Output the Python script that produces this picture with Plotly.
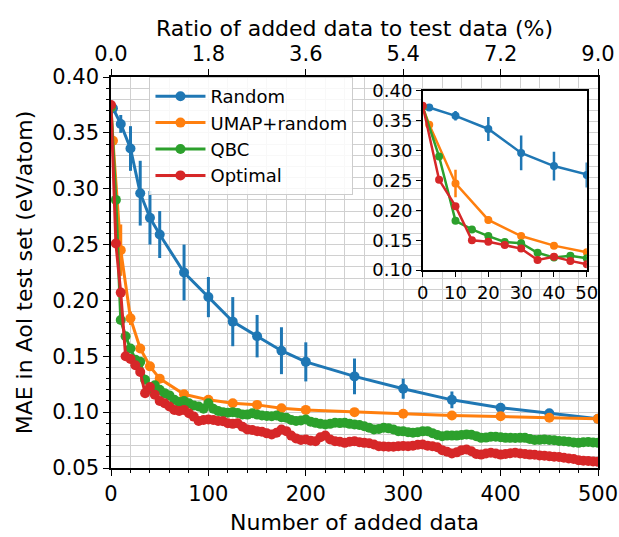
import plotly.graph_objects as go

# ---------------- data ----------------
random_x = [2, 10, 20, 30, 40, 50, 75, 100, 125, 150, 175, 200, 250, 300, 350, 400, 450, 500]
random_y = [0.372, 0.358, 0.336, 0.296, 0.274, 0.259, 0.225, 0.203, 0.181, 0.168, 0.155, 0.145,
            0.132, 0.121, 0.111, 0.104, 0.099, 0.094]
random_err = [0.004, 0.008, 0.020, 0.029, 0.024, 0.021, 0.025, 0.018, 0.022, 0.019, 0.021, 0.0175,
              0.016, 0.009, 0.0075, 0.004, 0.003, 0.004]

umap_x = [0, 2, 10, 20, 30, 40, 50, 75, 100, 125, 150, 175, 200, 250, 300, 350, 400, 450, 500]
umap_y = [0.373, 0.343, 0.245, 0.184, 0.157, 0.141, 0.130, 0.116, 0.111, 0.108, 0.1065, 0.1035,
          0.102, 0.100, 0.0985, 0.097, 0.0963, 0.095, 0.094]
umap_err = [0.0, 0.003, 0.023, 0.006, 0.004, 0.003, 0.003, 0.002, 0.002, 0.002, 0.002, 0.002,
            0.002, 0.002, 0.002, 0.002, 0.002, 0.002, 0.002]

dense_x = list(range(0, 501, 5))
qbc_y = [0.373, 0.290, 0.1825, 0.168, 0.157, 0.147, 0.145, 0.129, 0.121, 0.124, 0.120,
         0.117, 0.115, 0.111, 0.109, 0.110, 0.108, 0.106, 0.105, 0.103, 0.108,
         0.103, 0.101, 0.100, 0.0995, 0.100, 0.0993, 0.098, 0.0978, 0.099, 0.0978,
         0.097, 0.0965, 0.0963, 0.097, 0.0955, 0.095, 0.093, 0.092, 0.0925, 0.0934,
         0.0915, 0.0904, 0.0895, 0.089, 0.0895, 0.0905, 0.0902, 0.0904, 0.0895, 0.089,
         0.0885, 0.0874, 0.086, 0.0844, 0.085, 0.086, 0.0855, 0.0845, 0.083, 0.0828,
         0.082, 0.0815, 0.082, 0.0828, 0.083, 0.0812, 0.0795, 0.0785, 0.079, 0.079,
         0.079, 0.0795, 0.080, 0.0798, 0.0785, 0.077, 0.0772, 0.078, 0.078, 0.0775,
         0.077, 0.077, 0.0768, 0.077, 0.077, 0.076, 0.075, 0.0752, 0.0755, 0.075,
         0.0748, 0.0742, 0.074, 0.0735, 0.0728, 0.0725, 0.073, 0.0732, 0.0728, 0.0725]
opt_y = [0.375, 0.251, 0.207, 0.150, 0.1475, 0.142, 0.136, 0.117, 0.1225, 0.1155, 0.110,
         0.108, 0.105, 0.102, 0.101, 0.102, 0.099, 0.096, 0.092, 0.093, 0.0934,
         0.093, 0.092, 0.0918, 0.090, 0.0895, 0.090, 0.087, 0.0844, 0.084, 0.083,
         0.0825, 0.081, 0.080, 0.0815, 0.0844, 0.083, 0.079, 0.0765, 0.075, 0.0755,
         0.0745, 0.074, 0.0775, 0.079, 0.0755, 0.074, 0.0735, 0.0725, 0.0735, 0.074,
         0.073, 0.0725, 0.0722, 0.071, 0.0695, 0.0692, 0.069, 0.069, 0.0695, 0.0698,
         0.0695, 0.070, 0.0708, 0.071, 0.070, 0.0695, 0.0685, 0.066, 0.0645, 0.063,
         0.064, 0.066, 0.0666, 0.065, 0.0625, 0.062, 0.063, 0.0636, 0.063, 0.062,
         0.0625, 0.0632, 0.0636, 0.063, 0.0625, 0.062, 0.0618, 0.0612, 0.061, 0.0605,
         0.060, 0.0598, 0.0592, 0.0585, 0.058, 0.057, 0.0565, 0.0562, 0.0558, 0.0555]

top_tickvals = [0.0, 1.8, 3.6, 5.4, 7.2, 9.0]

BLUE, ORANGE, GREEN, RED = "#1f77b4", "#ff7f0e", "#2ca02c", "#d62728"
FONT = "DejaVu Sans"
GRID = "#d0d0d0"

series = [
    ("Random", random_x, random_y, random_err, BLUE),
    ("UMAP+random", umap_x, umap_y, umap_err, ORANGE),
    ("QBC", dense_x, qbc_y, None, GREEN),
    ("Optimal", dense_x, opt_y, None, RED),
]

fig = go.Figure()

for name, xs, ys, err, col in series:
    kw = {}
    if err is not None:
        kw["error_y"] = dict(type="data", array=err, visible=True, color=col, thickness=3, width=0)
    fig.add_trace(go.Scatter(x=xs, y=ys, name=name, mode="lines+markers",
                             line=dict(color=col, width=3), marker=dict(color=col, size=10),
                             xaxis="x", yaxis="y", **kw))

# dummy trace for top axis
fig.add_trace(go.Scatter(x=[0, 9], y=[None, None], xaxis="x2", yaxis="y",
                         showlegend=False, hoverinfo="skip", mode="lines"))

for name, xs, ys, err, col in series:
    kw = {}
    if err is not None:
        kw["error_y"] = dict(type="data", array=err, visible=True, color=col, thickness=2.5, width=0)
    fig.add_trace(go.Scatter(x=xs, y=ys, name=name, mode="lines+markers", showlegend=False,
                             line=dict(color=col, width=2.5), marker=dict(color=col, size=8),
                             xaxis="x3", yaxis="y3", **kw))

axis_common = dict(showline=True, linecolor="black", linewidth=1.5, ticks="outside",
                   tickcolor="black", tickwidth=1.2, zeroline=False, automargin=False,
                   tickfont=dict(family=FONT, size=21, color="black"))

fig.update_layout(
    width=619, height=537,
    margin=dict(l=111, r=21, t=77, b=69),
    paper_bgcolor="white",
    plot_bgcolor="rgba(255,255,255,0.999)",
    font=dict(family=FONT, size=18, color="black"),
    xaxis=dict(**axis_common, range=[0, 500], dtick=100, ticklen=6, mirror=False,
               showgrid=True, gridcolor=GRID, gridwidth=1,
               minor=dict(dtick=20, ticks="outside", ticklen=3.5, tickcolor="black",
                          showgrid=True, gridcolor=GRID, gridwidth=1),
               title=dict(text="Number of added data", standoff=10,
                          font=dict(family=FONT, size=22, color="black")),
               anchor="y"),
    yaxis=dict(**axis_common, range=[0.05, 0.40], dtick=0.05, tickformat=".2f", ticklen=6,
               mirror=True,
               showgrid=True, gridcolor=GRID, gridwidth=1,
               minor=dict(dtick=0.01, ticks="outside", ticklen=3.5, tickcolor="black",
                          showgrid=True, gridcolor=GRID, gridwidth=1),
               title=dict(text="MAE in AoI test set (eV/atom)", standoff=14,
                          font=dict(family=FONT, size=22, color="black")),
               anchor="x"),
    xaxis2=dict(**axis_common, overlaying="x", side="top", range=[0, 9],
                tickvals=top_tickvals, tickformat=".1f", ticklen=6, showgrid=False,
                anchor="y"),
    xaxis3=dict(showline=True, linecolor="black", linewidth=1.5, mirror=True, ticks="outside",
                tickcolor="black", ticklen=5, tickwidth=1.2, zeroline=False, showgrid=False,
                automargin=False,
                range=[0, 50], dtick=10, domain=[0.640, 0.977], anchor="y3",
                tickfont=dict(family=FONT, size=18, color="black")),
    yaxis3=dict(showline=True, linecolor="black", linewidth=1.5, mirror=True, ticks="outside",
                tickcolor="black", ticklen=5, tickwidth=1.2, zeroline=False, showgrid=False,
                automargin=False,
                range=[0.10, 0.40], dtick=0.05, tickformat=".2f", domain=[0.506, 0.965],
                anchor="x3", tickfont=dict(family=FONT, size=18, color="black")),
    legend=dict(x=0.079, y=1.0, xanchor="left", yanchor="top",
                bgcolor="rgba(255,255,255,0.85)", bordercolor="#cccccc", borderwidth=1,
                font=dict(family=FONT, size=18, color="black"), itemwidth=50,
                tracegroupgap=0),
    showlegend=True,
    annotations=[dict(text="Ratio of added data to test data (%)", xref="paper", yref="paper",
                      x=0.5, y=1.125, xanchor="center", yanchor="middle", showarrow=False,
                      font=dict(family=FONT, size=22, color="black"))],
)

fig.write_html("out.html")
